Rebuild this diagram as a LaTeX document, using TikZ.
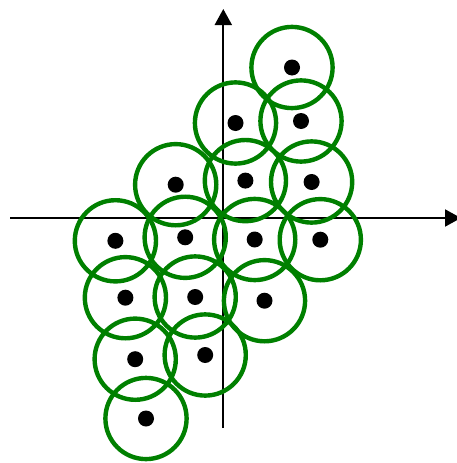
\documentclass[tikz,border=0pt]{standalone}
\usetikzlibrary{arrows.meta}
\definecolor{ringgreen}{RGB}{0,128,0}

\begin{document}
\begin{tikzpicture}[
        x=1pt, y=-1pt,
        axis/.style={line width=2pt, -{Triangle[length=16pt, width=17pt]}},
        dot/.style={circle, fill=black, inner sep=0pt, minimum size=16pt},
        ring/.style={draw=ringgreen, line width=4.4pt}
      ]
      \useasboundingbox (0,0) rectangle (457,463);

      % axes
      \coordinate (xfrom) at (10,218);
      \coordinate (xto) at (461,218);
      \coordinate (yfrom) at (223.3,428);
      \coordinate (yto) at (223.3,9);
      \draw[axis] (xfrom) -- (xto);
      \draw[axis] (yfrom) -- (yto);

      % points and their neighbourhoods
      \foreach \name/\px/\py in {p1/292/67.5, p2/235.5/123, p3/301/121,
          p4/175.7/184.7, p5/245.4/180.6, p6/311.6/182,
          p7/115.4/240.8, p8/185.2/237.3, p9/254.7/239.5, p10/320.3/239.7,
          p11/125.4/297.7, p12/195.2/297, p13/264.5/300.7,
          p14/135.2/359.2, p15/205.2/355, p16/146/418.5} {
        \node[dot] (\name) at (\px,\py) {};
        \draw[ring] (\name) circle[radius=40.6pt];
      }
    \end{tikzpicture}
\end{document}
